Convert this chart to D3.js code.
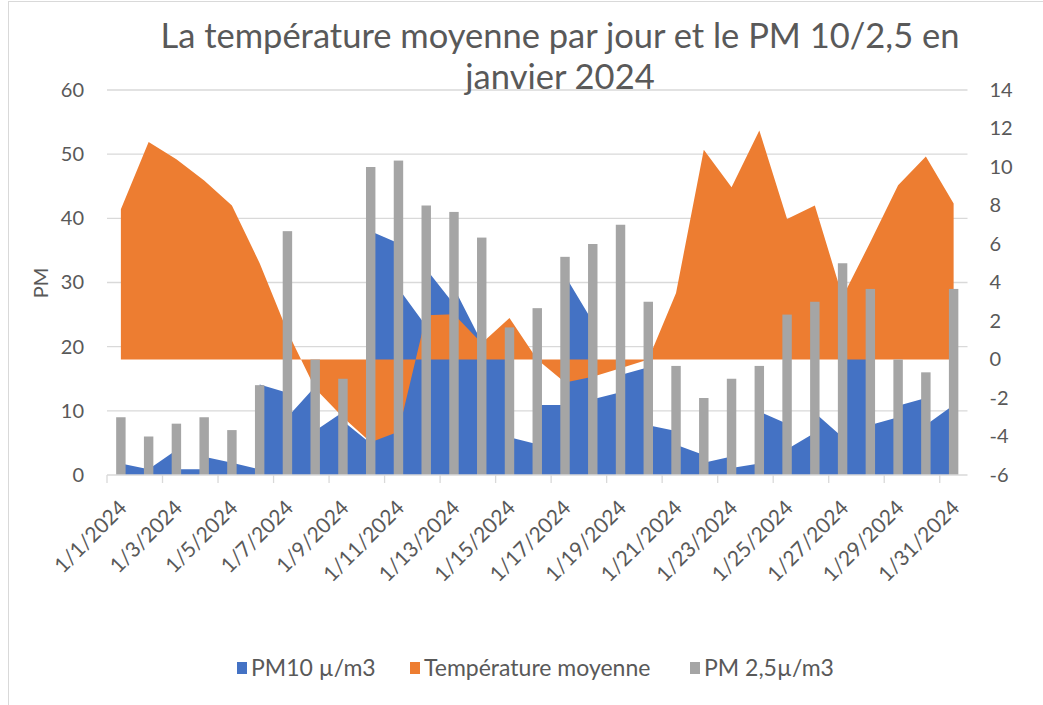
<!DOCTYPE html>
<html>
<head>
<meta charset="utf-8">
<script src="https://cdn.jsdelivr.net/npm/d3@7"></script>
<style>
  body { margin: 0; background: #fff; }
  text { font-family: Lato, "Open Sans", sans-serif; fill: #595959; }
</style>
</head>
<body>
<div id="chart"></div>
<script>
// jours de janvier 2024
const days = ["1/1/2024", "1/2/2024", "1/3/2024", "1/4/2024", "1/5/2024", "1/6/2024", "1/7/2024", "1/8/2024",
  "1/9/2024", "1/10/2024", "1/11/2024", "1/12/2024", "1/13/2024", "1/14/2024", "1/15/2024", "1/16/2024",
  "1/17/2024", "1/18/2024", "1/19/2024", "1/20/2024", "1/21/2024", "1/22/2024", "1/23/2024", "1/24/2024",
  "1/25/2024", "1/26/2024", "1/27/2024", "1/28/2024", "1/29/2024", "1/30/2024", "1/31/2024"]

// PM 2,5 (colonnes, axe gauche)
const pm25 = [9, 6, 8, 9, 7, 14, 38, 18, 15, 48, 49, 42, 41, 37, 23, 26, 34, 36, 39, 27, 17, 12, 15, 17, 25, 27, 33, 29, 18, 16, 29]

// température moyenne (aire, axe droit)
const temperature = [7.8, 11.3, 10.4, 9.3, 8.0, 5.0, 1.45, -1.5, -3.0, -4.3, -3.75, 2.3, 2.35, 0.85, 2.15, 0.0,
  -1.2, -0.9, -0.45, 0.0, 3.45, 10.9, 8.95, 11.9, 7.3, 8.0, 3.25, 6.1, 9.05, 10.55, 8.1]

// PM10 : premiere et derniere mesure de chaque jour (aire, axe gauche)
const pm10Debut = [1.8, 0.9, 3.9, 0.9, 1.9, 0.9, 12.8, 13.8, 9.8, 4.9, 36.1, 23.2, 26.6, 20.7, 21, 4.8,
  10.9, 23.9, 12.9, 16.8, 6.85, 3.1, 2.9, 1.8, 8.0, 6.6, 5.9, 24, 9.0, 12.0, 10.9]
const pm10Fin = [1.8, 0.9, 0.9, 2.85, 1.9, 14.1, 9.0, 6.9, 8.4, 38, 29.1, 32.1, 29.2, 21, 5.9, 10.9,
  31.1, 11.8, 15.6, 7.75, 4.7, 1.9, 1.1, 9.9, 4.0, 9.7, 24, 7.8, 10.8, 7.8, 10.9]

const leftTicks = [0, 10, 20, 30, 40, 50, 60]
const rightTicks = [-6, -4, -2, 0, 2, 4, 6, 8, 10, 12, 14]

const seriesNames = ["PM10 µ/m3", "Température moyenne", "PM 2,5µ/m3"]
const seriesColors = ["#4472c4", "#ed7d31", "#a5a5a5"]

const width = 1043, height = 705
const plot = { left: 107, right: 967.5, top: 90, bottom: 475 }
const gridColor = "#d9d9d9"

const svg = d3.select("#chart").append("svg")
  .attr("width", width)
  .attr("height", height)

// cadre du graphique
svg.append("rect")
  .attr("x", 8.5).attr("y", 1.5)
  .attr("width", 1100).attr("height", 710)
  .attr("fill", "none")
  .attr("stroke", gridColor)

const x = d3.scaleBand().domain(days).range([plot.left, plot.right])
const xBar = d3.scaleBand().domain(days).range([plot.left, plot.right])
  .paddingInner(0.66).paddingOuter(0.33)
const yL = d3.scaleLinear().domain([0, 60]).range([plot.bottom, plot.top])
const yR = d3.scaleLinear().domain([-6, 14]).range([plot.bottom, plot.top])
const cx = d => x(d) + x.bandwidth() / 2

// quadrillage
svg.append("g")
  .selectAll("line")
  .data(leftTicks.slice(1))
  .join("line")
  .attr("x1", plot.left).attr("x2", plot.right)
  .attr("y1", d => yL(d)).attr("y2", d => yL(d))
  .attr("stroke", gridColor)
  .attr("stroke-width", 1.3)

// aire PM10
const pm10Points = days.flatMap((d, i) => [[cx(d), pm10Debut[i]], [cx(d), pm10Fin[i]]])
svg.append("path")
  .datum(pm10Points)
  .attr("fill", seriesColors[0])
  .attr("d", d3.area().x(p => p[0]).y0(yL(0)).y1(p => yL(p[1])))

// aire temperature, remplie depuis le 0 de l'axe droit
svg.append("path")
  .datum(temperature)
  .attr("fill", seriesColors[1])
  .attr("d", d3.area().x((t, i) => cx(days[i])).y0(yR(0)).y1(t => yR(t)))

// colonnes PM 2,5
svg.append("g")
  .selectAll("rect")
  .data(pm25)
  .join("rect")
  .attr("x", (v, i) => xBar(days[i]))
  .attr("width", xBar.bandwidth())
  .attr("y", v => yL(v))
  .attr("height", v => yL(0) - yL(v))
  .attr("fill", seriesColors[2])

// axe X
svg.append("line")
  .attr("x1", plot.left).attr("x2", plot.right)
  .attr("y1", plot.bottom).attr("y2", plot.bottom)
  .attr("stroke", gridColor)
  .attr("stroke-width", 1.3)

svg.append("g")
  .selectAll("line")
  .data(days.filter((d, i) => i % 2 === 0))
  .join("line")
  .attr("x1", d => x(d)).attr("x2", d => x(d))
  .attr("y1", plot.bottom).attr("y2", plot.bottom + 8)
  .attr("stroke", gridColor)
  .attr("stroke-width", 1.3)

const xAxis = svg.append("g")
  .attr("transform", `translate(0,${plot.bottom})`)
  .call(d3.axisBottom(x).tickValues(days.filter((d, i) => i % 2 === 0)).tickSize(0))
xAxis.select(".domain").remove()
xAxis.selectAll("text")
  .attr("font-size", 21)
  .attr("text-anchor", "end")
  .attr("x", 0).attr("y", 0).attr("dy", "0.35em")
  .attr("transform", "translate(2,29) rotate(-45)")

// axe gauche
const yAxisL = svg.append("g")
  .attr("transform", `translate(${plot.left},0)`)
  .call(d3.axisLeft(yL).tickValues(leftTicks).tickSize(0).tickPadding(23))
yAxisL.select(".domain").remove()
yAxisL.selectAll("text").attr("font-size", 20)

// axe droit
const yAxisR = svg.append("g")
  .attr("transform", `translate(${plot.right},0)`)
  .call(d3.axisRight(yR).tickValues(rightTicks).tickSize(0).tickPadding(22)
    .tickFormat(d => d < 0 ? "-" + Math.abs(d) : d))
yAxisR.select(".domain").remove()
yAxisR.selectAll("text").attr("font-size", 20)

svg.selectAll(".tick text").attr("fill", "#595959").attr("font-family", "Lato, sans-serif")

svg.append("text")
  .attr("transform", "translate(41,283) rotate(-90)")
  .attr("text-anchor", "middle")
  .attr("dy", "0.35em")
  .attr("font-size", 20)
  .text("PM")

// titre
const title = svg.append("text")
  .attr("text-anchor", "middle")
  .attr("font-size", 34.5)
title.append("tspan").attr("x", 560).attr("y", 48).text("La température moyenne par jour et le PM 10/2,5 en")
title.append("tspan").attr("x", 560).attr("y", 89).text("janvier 2024")

// legende
const legendX = [237, 410, 690]
const legend = svg.append("g")
  .selectAll("g")
  .data(seriesNames)
  .join("g")
  .attr("transform", (d, i) => `translate(${legendX[i]},668)`)
legend.append("rect")
  .attr("x", 0).attr("y", -6)
  .attr("width", 10).attr("height", 12)
  .attr("fill", (d, i) => seriesColors[i])
legend.append("text")
  .attr("x", 14)
  .attr("dy", "0.35em")
  .attr("font-size", 23)
  .text(d => d)
</script>
</body>
</html>
